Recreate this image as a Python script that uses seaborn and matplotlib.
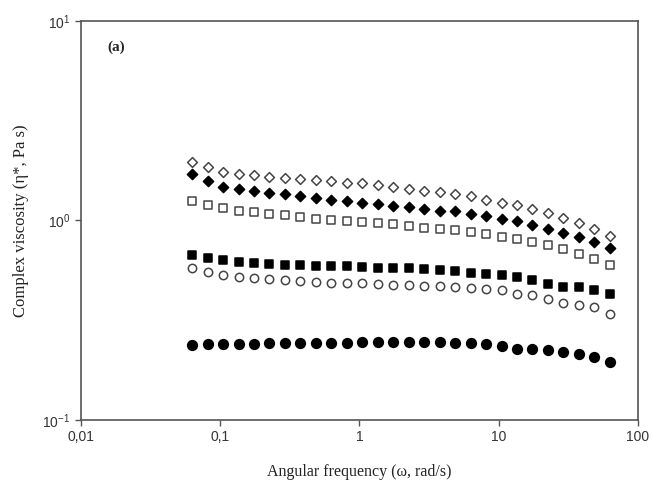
import pandas as pd
import matplotlib.pyplot as plt
import seaborn as sns

# Angular frequency (rad/s)
freq = [0.0628, 0.0811, 0.1047, 0.1353, 0.1747, 0.2256, 0.2914, 0.3763,
        0.4860, 0.628, 0.811, 1.047, 1.353, 1.747, 2.256, 2.914, 3.763,
        4.860, 6.28, 8.11, 10.47, 13.53, 17.47, 22.56, 29.14, 37.63,
        48.60, 62.8]

# Complex viscosity (Pa s) per sample
open_diamond = [1.97, 1.86, 1.76, 1.71, 1.69, 1.66, 1.63, 1.61, 1.59, 1.57,
                1.55, 1.54, 1.51, 1.48, 1.44, 1.41, 1.39, 1.36, 1.32, 1.27,
                1.23, 1.19, 1.14, 1.09, 1.03, 0.974, 0.909, 0.835]
filled_diamond = [1.71, 1.585, 1.48, 1.43, 1.40, 1.375, 1.35, 1.32, 1.30,
                  1.27, 1.25, 1.23, 1.21, 1.18, 1.17, 1.14, 1.12, 1.11, 1.08,
                  1.05, 1.02, 0.99, 0.944, 0.909, 0.864, 0.825, 0.779, 0.730]
open_square = [1.25, 1.20, 1.15, 1.12, 1.10, 1.08, 1.06, 1.04, 1.02, 1.01,
               0.997, 0.985, 0.969, 0.955, 0.933, 0.919, 0.909, 0.891, 0.874,
               0.851, 0.825, 0.804, 0.779, 0.750, 0.722, 0.682, 0.643, 0.596]
filled_square = [0.668, 0.651, 0.631, 0.619, 0.612, 0.607, 0.600, 0.596,
                 0.591, 0.589, 0.589, 0.584, 0.577, 0.577, 0.577, 0.573,
                 0.562, 0.556, 0.548, 0.537, 0.531, 0.521, 0.501, 0.479,
                 0.464, 0.464, 0.447, 0.430]
open_circle = [0.577, 0.551, 0.531, 0.521, 0.515, 0.507, 0.501, 0.495, 0.491,
               0.488, 0.488, 0.486, 0.483, 0.473, 0.473, 0.469, 0.469, 0.464,
               0.461, 0.456, 0.447, 0.430, 0.422, 0.406, 0.386, 0.376, 0.368,
               0.339]
filled_circle = [0.237, 0.239, 0.240, 0.240, 0.241, 0.242, 0.242, 0.243,
                 0.243, 0.244, 0.244, 0.245, 0.245, 0.246, 0.246, 0.245,
                 0.245, 0.243, 0.243, 0.240, 0.234, 0.228, 0.226, 0.224,
                 0.218, 0.214, 0.207, 0.196]

x_ticks = [0.01, 0.1, 1, 10, 100]
x_tick_labels = ["0,01", "0,1", "1", "10", "100"]
y_ticks = [0.1, 1, 10]
y_tick_labels = ["$10^{-1}$", "$10^{0}$", "$10^{1}$"]

sns.set_style("ticks")
plt.rcParams['font.family'] = ['Liberation Sans', 'DejaVu Sans']
plt.rcParams['mathtext.fontset'] = 'custom'
plt.rcParams['mathtext.rm'] = 'Liberation Sans'
plt.rcParams['mathtext.it'] = 'Liberation Sans:italic'

fig = plt.figure(figsize=(6.51, 4.87), dpi=100)
ax = fig.add_axes([0.1244, 0.1376, 0.8556, 0.8193])

# (values, marker, face, size)
series = [
    (open_diamond, "D", "white", 5.0),
    (filled_diamond, "D", "black", 5.2),
    (open_square, "s", "white", 5.4),
    (filled_square, "s", "black", 5.8),
    (open_circle, "o", "white", 6.0),
    (filled_circle, "o", "black", 7.0),
]

for vals, mk, face, size in series:
    df = pd.DataFrame({"freq": freq, "eta": vals})
    sns.scatterplot(
        data=df, x="freq", y="eta", ax=ax,
        marker=mk, s=size ** 2, facecolor=face,
        edgecolor="#444444" if face == "white" else "black",
        linewidth=1.1, legend=False, zorder=3
    )

ax.set_xscale("log")
ax.set_yscale("log")
ax.set_xlim(0.01, 100)
ax.set_ylim(0.1, 10)
ax.set_xticks(x_ticks)
ax.set_xticklabels(x_tick_labels)
ax.set_yticks(y_ticks)
ax.set_yticklabels(y_tick_labels)
ax.minorticks_off()

for side in ["top", "right", "left", "bottom"]:
    ax.spines[side].set_visible(True)
    ax.spines[side].set_color("#555555")
    ax.spines[side].set_linewidth(1.2)

ax.tick_params(direction="out", length=4, width=1, colors="#555555",
               labelcolor="#333333", labelsize=10)

ax.set_xlabel("Angular frequency (\u03c9, rad/s)", family="Liberation Serif",
              fontsize=11.5, color="#222222", labelpad=14)
ax.set_ylabel("Complex viscosity (\u03b7*, Pa s)", family="Liberation Serif",
              fontsize=12, color="#222222", labelpad=10)

ax.text(0.048, 0.935, "(a)", transform=ax.transAxes, family="Liberation Serif",
        fontweight="bold", fontsize=11, va="center", ha="left")

plt.savefig("out.png", dpi=100)
plt.close()
